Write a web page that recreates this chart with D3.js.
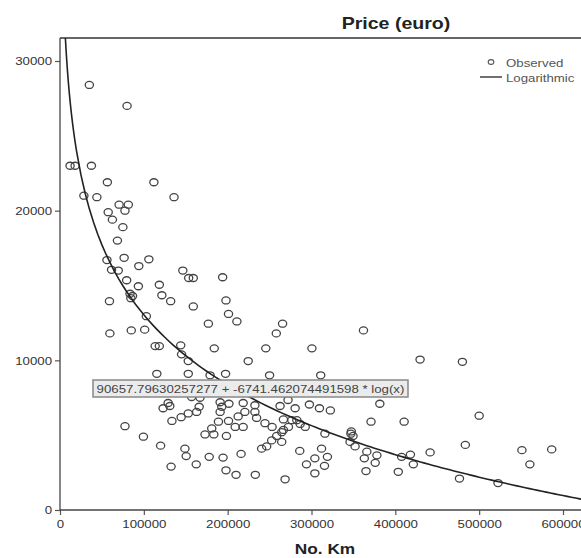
<!DOCTYPE html>
<html>
<head>
<meta charset="utf-8">
<script src="https://cdn.jsdelivr.net/npm/d3@7"></script>
<style>
  body { margin: 0; background: #fff; }
  text { font-family: "Liberation Sans", Arial, sans-serif; }
</style>
</head>
<body>
<svg id="chart" width="581" height="558"></svg>
<script>
// observed cars: mileage (km) and price (euro)
const kmValues = [
  35000, 80000, 12000, 18000, 37500, 56500, 112000, 28500, 44000, 136000,
  70500, 81500, 57500, 77500, 62500, 75000, 68500, 56000, 76500, 106000,
  94000, 61500, 69500, 146500, 153500, 159000, 194000, 79500, 93500, 118500,
  121500, 83500, 86500, 84500, 59000, 132000, 159000, 198000, 201000, 211000,
  103000, 177000, 265500, 258000, 59500, 85000, 101000, 362000, 113500, 118500,
  144000, 184000, 245500, 300500, 145000, 153000, 224500, 429500, 480000, 115500,
  153000, 179000, 197500, 250000, 311000, 157000, 167000, 272000, 129000, 123000,
  166000, 163000, 191000, 193000, 191000, 201500, 131000, 153000, 144500, 133500,
  189000, 201000, 77500, 181000, 173000, 183500, 198500, 99500, 120000, 149000,
  150500, 162500, 178000, 194500, 132500, 198000, 210000, 216000, 218500, 232500,
  232500, 220500, 212500, 218500, 209000, 234500, 244500, 253000, 262500, 280500,
  266500, 276500, 272500, 282500, 286500, 292500, 266500, 264500, 258500, 264500,
  252500, 246500, 240500, 233000, 268500, 297500, 309500, 322500, 381500, 371000,
  316000, 347000, 349500, 347500, 346000, 352000, 366000, 378000, 376000, 363000,
  365000, 403500, 407500, 410500, 286000, 312000, 319000, 304000, 294000, 315500,
  304000, 418000, 421500, 441500, 500000, 483500, 551000, 586500, 560500, 476500,
  522500
];
const priceValues = [
  28400, 27000, 23000, 23000, 23000, 21900, 21900, 21000, 20900, 20900,
  20400, 20400, 19900, 20000, 19400, 18900, 18000, 16700, 16850, 16750,
  16300, 16050, 16000, 16000, 15500, 15500, 15550, 15350, 14950, 15050,
  14350, 14450, 14300, 14150, 13950, 13950, 13600, 14000, 13100, 12600,
  12950, 12450, 12450, 11800, 11800, 12000, 12050, 12000, 10950, 10950,
  11000, 10800, 10800, 10800, 10400, 9950, 9950, 10050, 9900, 9100,
  9100, 9000, 9100, 9000, 9000, 7550, 7500, 7350, 7150, 6800,
  6900, 6550, 7200, 6900, 6550, 7100, 6950, 6450, 6200, 5950,
  5900, 5950, 5600, 5450, 5050, 5050, 4950, 4900, 4300, 4100,
  3600, 3050, 3550, 3500, 2900, 2650, 2350, 3750, 7150, 7000,
  6550, 6550, 6250, 5550, 5550, 6150, 5800, 5550, 6950, 6800,
  6050, 6000, 5550, 6000, 5750, 5550, 5350, 5200, 4950, 4550,
  4650, 4250, 4100, 2350, 2050, 7050, 6800, 6650, 7100, 5900,
  5100, 5100, 4950, 5250, 4550, 4250, 3900, 3650, 3150, 3450,
  2600, 2550, 3550, 5900, 3950, 4100, 3550, 3450, 3050, 2950,
  2450, 3700, 3050, 3850, 6300, 4350, 4000, 4050, 3050, 2100,
  1800
];

const xTicks = [0, 100000, 200000, 300000, 400000, 500000, 600000];
const yTicks = [0, 10000, 20000, 30000];
const chartTitle = "Price (euro)";
const xTitle = "No. Km";
const legendLabels = ["Observed", "Logarithmic"];

// logarithmic fit reported by the chart
const fitIntercept = 90657.79630257277;
const fitSlope = -6741.462074491598;
const fitLabel = "90657.79630257277 + -6741.462074491598 * log(x)";

const svg = d3.select("#chart");
const plotLeft = 60, plotTop = 38, plotRight = 581, plotBottom = 510;
const stretchX = 1.15; // the picture is a bit wider than tall

const x = d3.scaleLinear().domain([0, 600000]).range([60, 563]);
const y = d3.scaleLinear().domain([0, 30000]).range([510, 61]);

// widen text a little, like the reference
function stretch(sel) {
    sel.each(function() {
        const len = this.getComputedTextLength();
        d3.select(this).attr("textLength", len * stretchX).attr("lengthAdjust", "spacingAndGlyphs");
    });
}

svg.append("defs").append("clipPath").attr("id", "plotClip")
    .append("rect")
    .attr("x", plotLeft).attr("y", plotTop)
    .attr("width", plotRight - plotLeft).attr("height", plotBottom - plotTop);

// axes
const yAxis = svg.append("g")
    .attr("transform", `translate(${plotLeft},0)`)
    .call(d3.axisLeft(y).tickValues(yTicks).tickSize(5).tickPadding(3).tickFormat(d3.format("d")));
const xAxis = svg.append("g")
    .attr("transform", `translate(0,${plotBottom})`)
    .call(d3.axisBottom(x).tickValues(xTicks).tickSize(5).tickPadding(5).tickFormat(d3.format("d")));

[xAxis, yAxis].forEach(ax => {
    ax.select(".domain").remove();
    ax.selectAll(".tick line").attr("stroke", "#555").attr("stroke-width", 1.2);
    ax.selectAll(".tick text")
        .attr("font-size", 11.5)
        .attr("font-family", "Liberation Sans, Arial, sans-serif")
        .attr("fill", "#333");
});
stretch(svg.selectAll(".tick text"));

// frame lines
svg.append("line")
    .attr("x1", plotLeft).attr("x2", plotRight)
    .attr("y1", plotTop).attr("y2", plotTop)
    .attr("stroke", "#666").attr("stroke-width", 2);
svg.append("line")
    .attr("x1", plotLeft).attr("x2", plotLeft)
    .attr("y1", plotTop).attr("y2", plotBottom)
    .attr("stroke", "#444").attr("stroke-width", 1.3);
svg.append("line")
    .attr("x1", plotLeft).attr("x2", plotRight)
    .attr("y1", plotBottom).attr("y2", plotBottom)
    .attr("stroke", "#444").attr("stroke-width", 1.3);

const plot = svg.append("g").attr("clip-path", "url(#plotClip)");

// observed points
plot.append("g")
    .selectAll("ellipse")
    .data(kmValues.map((k, i) => ({ km: k, price: priceValues[i] })))
    .enter().append("ellipse")
    .attr("cx", d => x(d.km))
    .attr("cy", d => y(d.price))
    .attr("rx", 4.1)
    .attr("ry", 3.5)
    .attr("fill", "none")
    .attr("stroke", "#444")
    .attr("stroke-width", 1.3);

// fitted curve
const curveKm = d3.range(3000, 20000, 250).concat(d3.range(20000, 640001, 5000));
plot.append("path")
    .datum(curveKm)
    .attr("fill", "none")
    .attr("stroke", "#222")
    .attr("stroke-width", 1.6)
    .attr("d", d3.line()
        .x(k => x(k))
        .y(k => y(fitIntercept + fitSlope * Math.log(k))));

// equation label
svg.append("rect")
    .attr("x", 93).attr("y", 380).attr("width", 315).attr("height", 17)
    .attr("fill", "#ebebeb").attr("stroke", "#888").attr("stroke-width", 1.5);
svg.append("text")
    .attr("x", 250.5).attr("y", 393)
    .attr("text-anchor", "middle")
    .attr("font-size", 11.5)
    .attr("fill", "#444")
    .text(fitLabel)
    .call(stretch);

// titles
svg.append("text")
    .attr("x", 396).attr("y", 29)
    .attr("text-anchor", "middle")
    .attr("font-size", 17).attr("font-weight", "bold")
    .attr("fill", "#222")
    .text(chartTitle)
    .call(stretch);
svg.append("text")
    .attr("x", 325).attr("y", 554)
    .attr("text-anchor", "middle")
    .attr("font-size", 15).attr("font-weight", "bold")
    .attr("fill", "#222")
    .text(xTitle)
    .call(stretch);

// legend
const legend = svg.append("g");
legend.append("ellipse")
    .attr("cx", 491).attr("cy", 62).attr("rx", 2.8).attr("ry", 2.4)
    .attr("fill", "none").attr("stroke", "#555").attr("stroke-width", 1.1);
legend.append("line")
    .attr("x1", 480).attr("x2", 502).attr("y1", 77).attr("y2", 77)
    .attr("stroke", "#333").attr("stroke-width", 1.4);
legend.selectAll("text")
    .data(legendLabels)
    .enter().append("text")
    .attr("x", 506)
    .attr("y", (d, i) => 66.5 + i * 15)
    .attr("font-size", 11.5)
    .attr("fill", "#555")
    .text(d => d)
    .call(stretch);
</script>
</body>
</html>
